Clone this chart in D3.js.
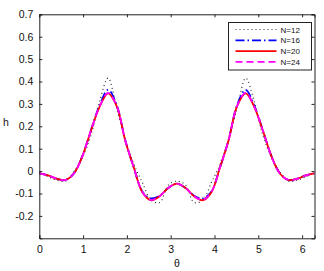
<!DOCTYPE html>
<html>
<head>
<meta charset="utf-8">
<script src="https://cdn.jsdelivr.net/npm/d3@7"></script>
<style>
  body { margin: 0; background: #fff; }
  text { font-family: "Liberation Sans", Arial, sans-serif; }
</style>
</head>
<body>
<script>
const width = 324
const height = 271
const margin = { top: 14.3, right: 9.5, bottom: 32.7, left: 39.3 }

// theta grid (k * pi / 16)
const theta = [0, 0.196, 0.393, 0.589, 0.785, 0.982, 1.178, 1.374, 1.571, 1.767, 1.963, 2.160, 2.356,
    2.553, 2.749, 2.945, 3.142, 3.338, 3.534, 3.731, 3.927, 4.123, 4.320, 4.516, 4.712, 4.909, 5.105,
    5.301, 5.498, 5.694, 5.890, 6.087, 6.283]

const hN12 = [-0.005, -0.025, -0.040, -0.045, -0.005, 0.060, 0.160, 0.310, 0.415, 0.280, 0.140, 0.030, -0.052,
    -0.130, -0.140, -0.062, -0.045, -0.062, -0.140, -0.130, -0.052, 0.030, 0.140, 0.280, 0.415, 0.310, 0.160,
    0.060, -0.005, -0.045, -0.040, -0.025, -0.005]
const hN16 = [-0.010, -0.019, -0.034, -0.040, -0.011, 0.067, 0.182, 0.292, 0.363, 0.295, 0.138, 0.014, -0.092,
    -0.122, -0.110, -0.075, -0.056, -0.075, -0.110, -0.122, -0.092, 0.014, 0.138, 0.295, 0.363, 0.292, 0.182,
    0.067, -0.011, -0.040, -0.034, -0.019, -0.010]
const hN20 = [-0.010, -0.019, -0.034, -0.040, -0.012, 0.066, 0.180, 0.286, 0.347, 0.290, 0.136, 0.015, -0.095,
    -0.130, -0.112, -0.075, -0.056, -0.075, -0.112, -0.130, -0.095, 0.015, 0.136, 0.290, 0.347, 0.286, 0.180,
    0.066, -0.012, -0.040, -0.034, -0.019, -0.010]
const hN24 = [-0.010, -0.019, -0.034, -0.040, -0.012, 0.066, 0.180, 0.287, 0.349, 0.291, 0.137, 0.015, -0.094,
    -0.129, -0.112, -0.075, -0.056, -0.075, -0.112, -0.129, -0.094, 0.015, 0.137, 0.291, 0.349, 0.287, 0.180,
    0.066, -0.012, -0.040, -0.034, -0.019, -0.010]

const seriesNames = ["N=12", "N=16", "N=20", "N=24"]
const seriesValues = [hN12, hN16, hN20, hN24]
const seriesColors = ["#333333", "#0000ff", "#ff0000", "#ff00ff"]
const seriesDash = ["1,3", "9,3,1.5,3", null, "7,4"]
const seriesWidth = [1.2, 1.8, 1.8, 1.8]

const xTicks = [0, 1, 2, 3, 4, 5, 6]
const yTicks = [-0.2, -0.1, 0, 0.1, 0.2, 0.3, 0.4, 0.5, 0.6, 0.7]

const x = d3.scaleLinear().domain([0, 2 * Math.PI]).range([margin.left, width - margin.right])
const y = d3.scaleLinear().domain([-0.3, 0.7]).range([height - margin.bottom, margin.top])

const svg = d3.select("body").append("svg")
    .attr("width", width)
    .attr("height", height)

svg.append("clipPath").attr("id", "clip")
    .append("rect")
    .attr("x", margin.left)
    .attr("y", margin.top)
    .attr("width", width - margin.left - margin.right)
    .attr("height", height - margin.top - margin.bottom)

const line = d3.line()
    .x((d, i) => x(theta[i]))
    .y((d) => y(d))
    .curve(d3.curveCatmullRom)

svg.append("g")
    .attr("clip-path", "url(#clip)")
    .selectAll("path")
    .data(seriesValues)
    .join("path")
    .attr("d", (d) => line(d))
    .attr("fill", "none")
    .attr("stroke", (_, i) => seriesColors[i])
    .attr("stroke-width", (_, i) => seriesWidth[i])
    .attr("stroke-dasharray", (_, i) => seriesDash[i])

// axes, ticks inward on all four sides
const tickLen = 3
const axisColor = "#222"

const axBottom = svg.append("g")
    .attr("transform", `translate(0,${height - margin.bottom})`)
    .call(d3.axisBottom(x).tickValues(xTicks).tickSize(-tickLen).tickPadding(7).tickFormat(d3.format("d")))
const axTop = svg.append("g")
    .attr("transform", `translate(0,${margin.top})`)
    .call(d3.axisTop(x).tickValues(xTicks).tickSize(-tickLen).tickFormat(""))
const axLeft = svg.append("g")
    .attr("transform", `translate(${margin.left},0)`)
    .call(d3.axisLeft(y).tickValues(yTicks).tickSize(-tickLen).tickPadding(6)
        .tickFormat((d) => (d === 0 ? "0" : d3.format(".1f")(d).replace("−", "-"))))
const axRight = svg.append("g")
    .attr("transform", `translate(${width - margin.right},0)`)
    .call(d3.axisRight(y).tickValues(yTicks).tickSize(-tickLen).tickFormat(""))

;[axBottom, axTop, axLeft, axRight].forEach((g) => {
    g.select(".domain").attr("stroke", axisColor).attr("stroke-width", 1)
    g.selectAll(".tick line").attr("stroke", axisColor)
    g.selectAll(".tick text").attr("fill", "#111").attr("font-size", 10.5)
})

svg.append("text")
    .attr("x", (x(0) + x(2 * Math.PI)) / 2)
    .attr("y", 267)
    .attr("text-anchor", "middle")
    .attr("font-size", 10.5)
    .attr("fill", "#111")
    .text("θ")

svg.append("text")
    .attr("x", 6)
    .attr("y", 126)
    .attr("text-anchor", "middle")
    .attr("font-size", 10.5)
    .attr("fill", "#111")
    .text("h")

// legend
const legend = svg.append("g").attr("transform", "translate(228.5,22.5)")
legend.append("rect")
    .attr("width", 83)
    .attr("height", 47.5)
    .attr("fill", "#fff")
    .attr("stroke", axisColor)
    .attr("stroke-width", 1)

const item = legend.selectAll("g.item")
    .data(seriesNames)
    .join("g")
    .attr("class", "item")
    .attr("transform", (_, i) => `translate(0,${7 + i * 10.8})`)

item.append("line")
    .attr("x1", 7)
    .attr("x2", 48)
    .attr("stroke", (_, i) => seriesColors[i])
    .attr("stroke-width", (_, i) => seriesWidth[i])
    .attr("stroke-dasharray", (_, i) => seriesDash[i])

item.append("text")
    .attr("x", 52)
    .attr("y", 3)
    .attr("font-size", 8)
    .attr("fill", "#111")
    .text((d) => d)
</script>
</body>
</html>
